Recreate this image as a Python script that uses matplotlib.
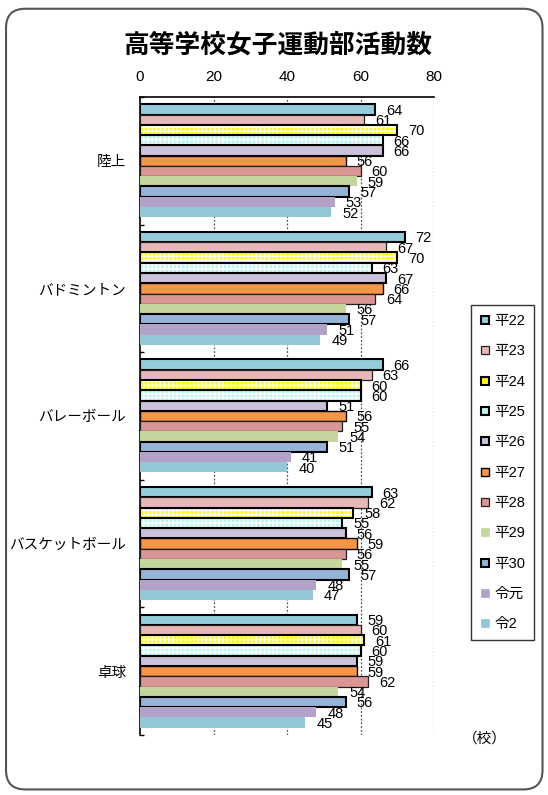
import numpy as np
import matplotlib.pyplot as plt
from matplotlib.patches import FancyBboxPatch
from matplotlib.lines import Line2D

plt.rcParams['font.family'] = ['Liberation Sans', 'Noto Sans CJK JP']
plt.rcParams['hatch.linewidth'] = 1.0

# data
sports = ['陸上', 'バドミントン', 'バレーボール', 'バスケットボール', '卓球']
years = ['平22', '平23', '平24', '平25', '平26', '平27', '平28', '平29', '平30', '令元', '令2']
values = {
    '陸上':         [64, 61, 70, 66, 66, 56, 60, 59, 57, 53, 52],
    'バドミントン':   [72, 67, 70, 63, 67, 66, 64, 56, 57, 51, 49],
    'バレーボール':   [66, 63, 60, 60, 51, 56, 55, 54, 51, 41, 40],
    'バスケットボール': [63, 62, 58, 55, 56, 59, 56, 55, 57, 48, 47],
    '卓球':         [59, 60, 61, 60, 59, 59, 62, 54, 56, 48, 45],
}

# styles per series: face, edge, edge width, hatch
styles = [
    ('#93CDDD', 'black', 1.5, None),
    ('#E6B9B8', '#222222', 0.9, None),
    ('#FFFF00', 'black', 1.5, '++++'),
    ('#B8F8F0', 'black', 1.5, '++++'),
    ('#CCC1DA', 'black', 1.5, None),
    ('#F79646', 'black', 1.0, None),
    ('#D99694', '#222222', 0.9, None),
    ('#C3D69B', 'none', 0, None),
    ('#95B3D7', 'black', 1.5, None),
    ('#B3A2C7', 'none', 0, None),
    ('#93C6D6', 'none', 0, None),
]

fig = plt.figure(figsize=(5.48, 7.95), dpi=100)
border = FancyBboxPatch((0.011, 0.007), 0.979, 0.982, boxstyle='round,pad=0,rounding_size=0.035',
                        transform=fig.transFigure, fill=False, edgecolor='#555555', linewidth=1.5,
                        mutation_aspect=548 / 795)
fig.patches.append(border)

ax = fig.add_axes([0.2555, 0.0755, 0.5365, 0.8025])

n = len(years)
h = 0.0805
ypos = np.arange(len(sports))
for i, yr in enumerate(years):
    face, edge, lw, hatch = styles[i]
    vals = [values[s][i] for s in sports]
    y = ypos + (i - (n - 1) / 2) * h
    if hatch:
        ax.barh(y, vals, height=h, color=face, edgecolor='white', linewidth=0, hatch=hatch, zorder=3)
        ax.barh(y, vals, height=h, fill=False, edgecolor=edge, linewidth=lw, zorder=4)
    else:
        ax.barh(y, vals, height=h, color=face, edgecolor=edge, linewidth=lw, zorder=3)
    for yy, v in zip(y, vals):
        ax.annotate(str(v), (v, yy), xytext=(8, -1), textcoords='offset points',
                    ha='left', va='center', fontsize=10.5, zorder=5)

ax.set_xlim(0, 80)
ax.set_ylim(len(sports) - 0.5, -0.5)
ax.set_xticks([0, 20, 40, 60, 80])
ax.tick_params(axis='x', top=True, labeltop=True, bottom=False, labelbottom=False,
               length=0, pad=9, labelsize=11)
ax.set_yticks(ypos)
ax.set_yticklabels(sports)
ax.tick_params(axis='y', length=0, pad=10, labelsize=10.5)
ax.set_yticks(np.arange(len(sports) + 1) - 0.5, minor=True)
ax.tick_params(axis='y', which='minor', length=3, direction='in', width=1)
for x in [20, 40, 60, 80]:
    ax.axvline(x, color='#555555', linestyle=(0, (1.5, 1.5)), linewidth=0.9, zorder=1)
ax.spines['right'].set_visible(False)
ax.spines['bottom'].set_visible(False)
ax.spines['top'].set_linewidth(1.2)
ax.spines['left'].set_linewidth(1.2)

fig.text(0.508, 0.943, '高等学校女子運動部活動数', ha='center', va='center',
         fontsize=18.5, fontweight='bold', family=['Noto Sans CJK JP'])
fig.text(0.885, 0.071, '（校）', ha='center', va='center', fontsize=10.5,
         family=['Noto Sans CJK JP'])

handles = []
for i, yr in enumerate(years):
    face, edge, lw, hatch = styles[i]
    handles.append(Line2D([], [], linestyle='none', marker='s', markersize=6,
                          markerfacecolor=face,
                          markeredgecolor=edge if edge != 'none' else face,
                          markeredgewidth=max(lw, 0.5)))
leg = fig.legend(handles, years, loc='upper left', bbox_to_anchor=(0.859, 0.616),
                 fontsize=10.5, labelspacing=1.12, handlelength=0.7, handletextpad=0.3,
                 borderpad=0.6, fancybox=False, frameon=True, borderaxespad=0)
leg.get_frame().set_edgecolor('black')
leg.get_frame().set_linewidth(1.0)

fig.savefig('out.png', dpi=100)
